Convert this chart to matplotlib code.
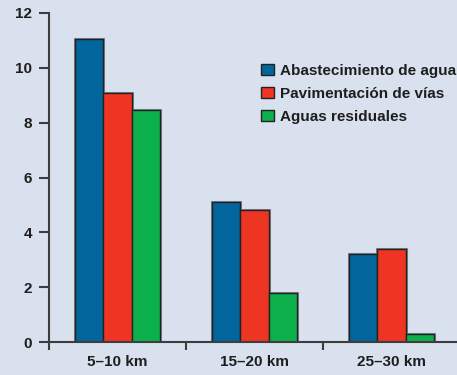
import matplotlib
matplotlib.use("Agg")
import matplotlib.pyplot as plt
import numpy as np

categories = ["5–10 km", "15–20 km", "25–30 km"]
series_names = ["Abastecimiento de agua", "Pavimentación de vías", "Aguas residuales"]
abastecimiento = [11.05, 5.1, 3.2]
pavimentacion = [9.1, 4.8, 3.4]
residuales = [8.45, 1.8, 0.28]
y_ticks = [0, 2, 4, 6, 8, 10, 12]

colors = ["#02659b", "#ee3524", "#0bb04b"]
bg = "#d9e1ee"
axis_col = "#3d3d3d"
text_col = "#1e1e1e"

plt.rcParams["font.family"] = ["Liberation Sans", "DejaVu Sans"]
plt.rcParams["font.weight"] = "bold"

fig = plt.figure(figsize=(4.57, 3.75), dpi=100, facecolor=bg)
ax = fig.add_axes([49 / 457, 33 / 375, 1 - 49 / 457, 329 / 375])
ax.set_facecolor(bg)

x = np.arange(len(categories))
width = 0.207
for i, (vals, name) in enumerate(zip([abastecimiento, pavimentacion, residuales], series_names)):
    # soft grey halo under each bar outline
    ax.bar(x + (i - 1) * width, vals, width, color="none", edgecolor="#7d8490",
           linewidth=2.2, zorder=2)
    ax.bar(x + (i - 1) * width, vals, width, color=colors[i], edgecolor="#222222",
           linewidth=1.0, label=name, zorder=3)

ax.set_xlim(-0.5, 2.478)
ax.set_ylim(0, 12)
ax.set_yticks(y_ticks)
ax.set_yticklabels([str(t) for t in y_ticks], fontsize=11, fontweight="bold", color=text_col)
ax.set_xticks(x)
ax.set_xticklabels(categories, fontsize=11, fontweight="bold", color=text_col)
ax.set_xticks([-0.5, 0.5, 1.5], minor=True)
ax.tick_params(axis="x", which="major", length=0, pad=9)
ax.tick_params(axis="x", which="minor", length=6, width=1.5, color=axis_col, direction="out")
ax.tick_params(axis="y", length=7, width=1.5, color=axis_col, direction="out", pad=5)

for s in ["top", "right"]:
    ax.spines[s].set_visible(False)
for s in ["left", "bottom"]:
    ax.spines[s].set_color(axis_col)
    ax.spines[s].set_linewidth(1.5)
    ax.spines[s].set_zorder(4)

handles, labels = ax.get_legend_handles_labels()
leg = fig.legend(handles, labels, loc="upper left", bbox_to_anchor=(261 / 457, 1 - 64 / 375),
                 frameon=False, borderpad=0, borderaxespad=0,
                 handlelength=0.85, handleheight=0.72, handletextpad=0.4,
                 labelspacing=0.58, prop={"size": 11, "weight": "bold"})
for t in leg.get_texts():
    t.set_color(text_col)

fig.savefig("out.png", dpi=100, facecolor=bg)
